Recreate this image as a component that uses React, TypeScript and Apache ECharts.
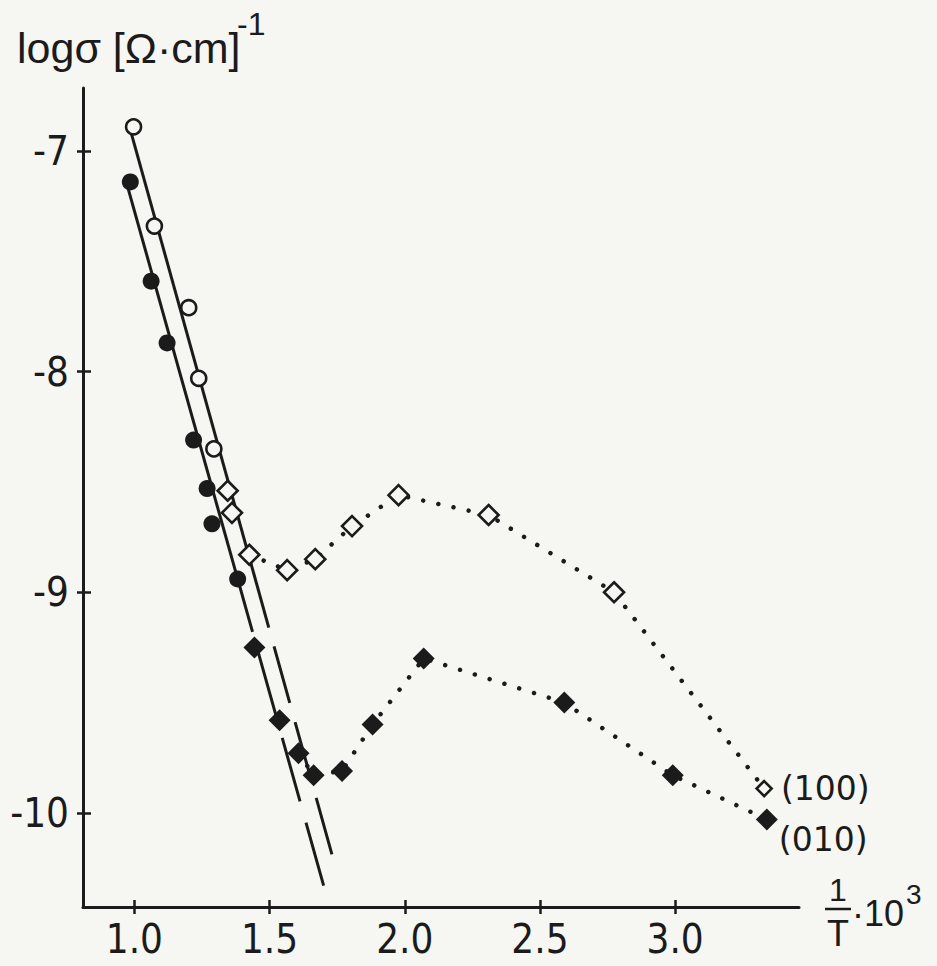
import React, { useEffect, useRef } from "react";
import * as echarts from "echarts";

// ---- data ----
const xTicks = [1.0, 1.5, 2.0, 2.5, 3.0];
const yTicks = [-7, -8, -9, -10];

// (100) direction, high-temperature points (open circles)
const open100Circles: number[][] = [
  [0.997, -6.89], [1.074, -7.34], [1.201, -7.71], [1.238, -8.03], [1.294, -8.35],
];
// (010) direction, high-temperature points (filled circles)
const filled010Circles: number[][] = [
  [0.985, -7.14], [1.062, -7.59], [1.121, -7.87], [1.219, -8.31], [1.269, -8.53],
  [1.287, -8.69], [1.382, -8.94],
];
// (100) direction, open diamonds
const open100Diamonds: number[][] = [
  [1.345, -8.54], [1.361, -8.64], [1.425, -8.83], [1.565, -8.9], [1.669, -8.85],
  [1.805, -8.7], [1.977, -8.56], [2.31, -8.65], [2.774, -9.0], [3.329, -9.89],
];
// (010) direction, filled diamonds
const filled010Diamonds: number[][] = [
  [1.444, -9.25], [1.537, -9.58], [1.607, -9.73], [1.663, -9.83], [1.768, -9.81],
  [1.881, -9.6], [2.07, -9.3], [2.59, -9.5], [2.991, -9.83], [3.339, -10.03],
];
// straight fit lines (solid part, then long-dashed extrapolation)
const fit100Solid: number[][] = [[0.982, -6.89], [1.497, -9.16]];
const fit100Dashed: number[][] = [[1.497, -9.16], [1.731, -10.19]];
const fit010Solid: number[][] = [[0.97, -7.14], [1.437, -9.18]];
const fit010Dashed: number[][] = [[1.437, -9.18], [1.7, -10.33]];
// the dotted curves start at this index of each diamond series
const dotted100Start = 2;
const dotted010Start = 2;

const label100 = "(100)";
const label010 = "(010)";

const BG = "#f6f6f3";
const INK = "#1b1b1b";
const TICK_FONT = "'Liberation Sans Narrow', 'DejaVu Sans Condensed', 'Liberation Sans', sans-serif";
const TITLE_FONT = "'Liberation Sans', 'DejaVu Sans', sans-serif";

export default function App() {
  const ref = useRef<HTMLDivElement>(null);

  useEffect(() => {
    if (!ref.current) return;
    const chart = echarts.init(ref.current, undefined, { renderer: "svg" });

    const xMin = 0.81, xMax = 3.458, yMin = -10.427, yMax = -6.714;

    const lastLabel = (arr: number[][], text: string, extra: any) =>
      arr.map((p, i) =>
        i === arr.length - 1
          ? {
              value: p,
              ...extra.item,
              label: {
                show: true,
                formatter: text,
                fontFamily: "'DejaVu Sans', sans-serif",
                fontSize: 33,
                color: INK,
                ...extra.label,
              },
            }
          : p
      );

    const baseX = {
      type: "value",
      min: xMin,
      max: xMax,
      splitLine: { show: false },
    };
    const baseY = {
      type: "value",
      min: yMin,
      max: yMax,
      splitLine: { show: false },
    };

    chart.setOption({
      animation: false,
      backgroundColor: BG,
      grid: { left: 83, top: 88, right: 138, bottom: 59, containLabel: false },
      xAxis: [
        {
          ...baseX,
          position: "bottom",
          axisLine: { show: true, onZero: false, lineStyle: { color: INK, width: 3 } },
          axisTick: { show: true, customValues: xTicks, length: 7, lineStyle: { color: INK, width: 2.5 } },
          axisLabel: {
            customValues: xTicks,
            formatter: (v: number) => v.toFixed(1),
            fontFamily: TICK_FONT,
            fontSize: 40,
            color: INK,
            margin: 12,
          },
        },
        {
          ...baseX,
          position: "bottom",
          axisLine: { show: false, onZero: false },
          axisTick: { show: true, inside: true, customValues: xTicks, length: 7, lineStyle: { color: INK, width: 2.5 } },
          axisLabel: { show: false },
        },
      ],
      yAxis: [
        {
          ...baseY,
          position: "left",
          axisLine: { show: true, onZero: false, lineStyle: { color: INK, width: 3 } },
          axisTick: { show: true, customValues: yTicks, length: 6, lineStyle: { color: INK, width: 2.5 } },
          axisLabel: {
            customValues: yTicks,
            formatter: (v: number) => `${Math.round(v)}`,
            fontFamily: TICK_FONT,
            fontSize: 40,
            color: INK,
            margin: 14,
          },
        },
        {
          ...baseY,
          position: "left",
          axisLine: { show: false, onZero: false },
          axisTick: { show: true, inside: true, customValues: yTicks, length: 8, lineStyle: { color: INK, width: 2.5 } },
          axisLabel: { show: false },
        },
      ],
      graphic: [
        {
          type: "text",
          left: 17,
          top: 26,
          style: { text: "logσ [Ω·cm]", font: `43px ${TITLE_FONT}`, fill: INK },
        },
        {
          type: "text",
          left: 237,
          top: 8,
          style: { text: "-1", font: `32px ${TITLE_FONT}`, fill: INK },
        },
        {
          type: "text",
          x: 838,
          y: 890,
          style: { text: "1", font: `32px ${TITLE_FONT}`, fill: INK, align: "center", verticalAlign: "middle" },
        },
        {
          type: "line",
          shape: { x1: 825, y1: 909, x2: 851, y2: 909 },
          style: { stroke: INK, lineWidth: 2.5 },
        },
        {
          type: "text",
          x: 838,
          y: 933,
          style: { text: "T", font: `36px ${TITLE_FONT}`, fill: INK, align: "center", verticalAlign: "middle" },
        },
        {
          type: "text",
          x: 852,
          y: 913,
          style: { text: "·10", font: `36px ${TITLE_FONT}`, fill: INK, align: "left", verticalAlign: "middle" },
        },
        {
          type: "text",
          x: 906,
          y: 894,
          style: { text: "3", font: `28px ${TITLE_FONT}`, fill: INK, align: "left", verticalAlign: "middle" },
        },
      ],
      series: [
        { type: "line", data: fit100Solid, symbol: "none", lineStyle: { color: INK, width: 3 }, z: 1 },
        { type: "line", data: fit100Dashed, symbol: "none", lineStyle: { color: INK, width: 3, type: [58.6, 20], dashOffset: 58.6 }, z: 1 },
        { type: "line", data: fit010Solid, symbol: "none", lineStyle: { color: INK, width: 3 }, z: 1 },
        { type: "line", data: fit010Dashed, symbol: "none", lineStyle: { color: INK, width: 3, type: [66, 22], dashOffset: 66 }, z: 1 },
        {
          type: "line",
          data: open100Diamonds.slice(dotted100Start),
          symbol: "none",
          lineStyle: { color: INK, width: 4.5, type: [0.01, 15.5], cap: "round" },
          z: 1,
        },
        {
          type: "line",
          data: filled010Diamonds.slice(dotted010Start),
          symbol: "none",
          lineStyle: { color: INK, width: 4.5, type: [0.01, 15.5], cap: "round" },
          z: 1,
        },
        {
          type: "scatter",
          name: "open circles (100)",
          data: open100Circles,
          symbol: "circle",
          symbolSize: 15,
          itemStyle: { color: BG, borderColor: INK, borderWidth: 2.6, opacity: 1 },
          z: 3,
        },
        {
          type: "scatter",
          name: "filled circles (010)",
          data: filled010Circles,
          symbol: "circle",
          symbolSize: 17,
          itemStyle: { color: INK, opacity: 1 },
          z: 3,
        },
        {
          type: "scatter",
          name: "open diamonds (100)",
          data: lastLabel(open100Diamonds, label100, {
            item: { symbolSize: 15 },
            label: { position: "right", distance: 8 },
          }),
          symbol: "diamond",
          symbolSize: 20,
          itemStyle: { color: BG, borderColor: INK, borderWidth: 2.6, opacity: 1 },
          z: 3,
        },
        {
          type: "scatter",
          name: "filled diamonds (010)",
          data: lastLabel(filled010Diamonds, label010, {
            item: {},
            label: { position: "right", distance: 1, offset: [0, 20] },
          }),
          symbol: "diamond",
          symbolSize: 22,
          itemStyle: { color: INK, opacity: 1 },
          z: 3,
        },
      ],
    });

    return () => chart.dispose();
  }, []);

  return (
    <div
      ref={ref}
      style={{ position: "absolute", left: 0, top: 0, width: 937, height: 966 }}
    />
  );
}
